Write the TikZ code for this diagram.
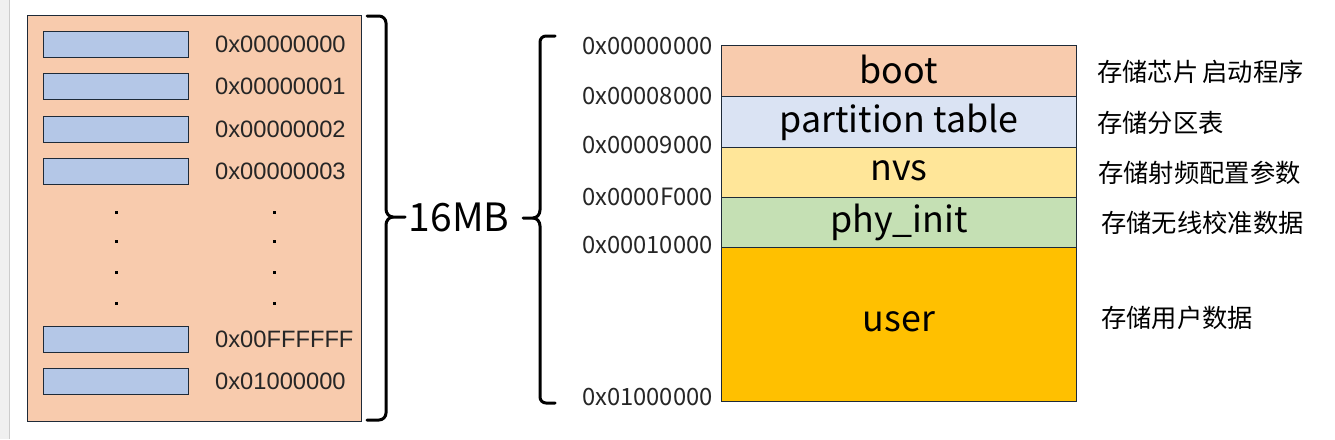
\documentclass[tikz,border=0pt]{standalone}
\usepackage{fontspec}
\setmainfont{Liberation Sans}
\newfontfamily\cjk{Noto Sans CJK SC}
\definecolor{peach}{HTML}{F8CBAD}
\definecolor{cellblue}{HTML}{B4C7E7}
\definecolor{ptblue}{HTML}{DAE3F3}
\definecolor{nvsyel}{HTML}{FFE699}
\definecolor{phygreen}{HTML}{C5E0B4}
\definecolor{userorg}{HTML}{FFC000}
\definecolor{edge}{HTML}{1E2A38}
\definecolor{stripgray}{HTML}{F0F0F0}
\begin{document}
\begin{tikzpicture}[x=1pt,y=-1pt,
  cell/.style={draw=edge,line width=1pt,fill=cellblue,minimum width=145pt,minimum height=26pt,inner sep=0pt,anchor=north west},
  addrL/.style={anchor=west,inner sep=0pt,font=\fontsize{23.7}{26}\selectfont,text=black!85},
  addrR/.style={anchor=east,inner sep=0pt,font=\cjk\fontsize{23.8}{26}\selectfont,text=black!85},
  part/.style={draw=edge,line width=1pt,minimum width=355pt,inner sep=0pt,anchor=north west,font=\cjk\fontsize{35.8}{38}\selectfont},
  desc/.style={anchor=west,inner sep=0pt,font=\cjk\fontsize{25.3}{28}\selectfont},
  bracestyle/.style={draw=black,line width=3pt,line cap=round,line join=round},
  dot/.style={fill=black}]
\useasboundingbox (0,0) rectangle (1335,439);
\fill[stripgray] (0,0) rectangle (9,439);
\draw[black!20,line width=1pt] (9.5,0) -- (9.5,439);
% left memory box
\node[draw=edge,line width=1pt,fill=peach,minimum width=334pt,minimum height=406pt,inner sep=0pt,anchor=north west] (mem) at (27,15) {};
\node[cell] (c0) at (43,31) {};
\node[cell] (c1) at (43,73) {};
\node[cell] (c2) at (43,116) {};
\node[cell] (c3) at (43,158) {};
\node[cell] (c4) at (43,326) {};
\node[cell] (c5) at (43,368) {};
\node[addrL] (a0) at (215,44) {0x00000000};
\node[addrL] (a1) at (215,86) {0x00000001};
\node[addrL] (a2) at (215,129) {0x00000002};
\node[addrL] (a3) at (215,171) {0x00000003};
\node[addrL] (a4) at (215,339) {0x00FFFFFF};
\node[addrL] (a5) at (215,381) {0x01000000};
\foreach \yy in {212,241,272,303}{
  \fill[dot] (114.5,\yy-1.5) rectangle ++(3,3);
  \fill[dot] (272.5,\yy-1.5) rectangle ++(3,3);
}
% right brace of left box
\coordinate (b1tip) at (405,217);
\path[bracestyle] (367,16) -- (379,16) to[out=0,in=90] (386,23) -- (386,209)
  to[out=-90,in=180] (393,217) -- (b1tip);
\path[bracestyle] (367,420) -- (379,420) to[out=0,in=-90] (386,413) -- (386,225)
  to[out=90,in=180] (393,217);
\node[inner sep=0pt,font=\cjk\fontsize{39}{42}\selectfont] (size) at (459,217) {16MB};
% left brace of partition table
\coordinate (b2tip) at (523,218);
\path[bracestyle] (555,36) -- (546,36) to[out=180,in=90] (540,42) -- (540,210)
  to[out=-90,in=0] (533,218) -- (b2tip);
\path[bracestyle] (555,403) -- (546,403) to[out=180,in=-90] (540,397) -- (540,226)
  to[out=90,in=0] (533,218);
% partition stack
\node[part,fill=peach,minimum height=51pt] (boot) at (721,45) {\raisebox{4pt}{boot}};
\node[part,fill=ptblue,minimum height=51pt] (pt) at (721,96) {\raisebox{4pt}{partition table}};
\node[part,fill=nvsyel,minimum height=50pt] (nvs) at (721,147) {\raisebox{4pt}{nvs}};
\node[part,fill=phygreen,minimum height=50pt] (phy) at (721,197) {\raisebox{4pt}{phy\_init}};
\node[part,fill=userorg,minimum height=154pt] (user) at (721,247) {\raisebox{5pt}{user}};
\node[addrR] (r0) at (713,46) {0x00000000};
\node[addrR] (r1) at (713,96) {0x00008000};
\node[addrR] (r2) at (713,145) {0x00009000};
\node[addrR] (r3) at (713,197) {0x0000F000};
\node[addrR] (r4) at (713,245) {0x00010000};
\node[addrR] (r5) at (713,397) {0x01000000};
\node[desc] (d0) at (1097,72) {存储芯片\hspace{4pt}启动程序};
\node[desc] (d1) at (1097,123) {存储分区表};
\node[desc] (d2) at (1098,173) {存储射频配置参数};
\node[desc] (d3) at (1101,223) {存储无线校准数据};
\node[desc] (d4) at (1101,318) {存储用户数据};
\end{tikzpicture}
\end{document}
